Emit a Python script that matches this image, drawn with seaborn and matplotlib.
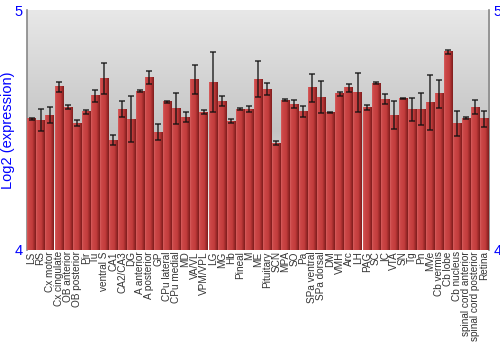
import numpy as np
import pandas as pd
import matplotlib
matplotlib.use("Agg")
import matplotlib.pyplot as plt
from matplotlib.colors import LinearSegmentedColormap
import seaborn as sns

regions = ["LS", "RS", "Cx motor", "Cx cingulate", "OB anterior", "OB posterior", "Pir", "Tu",
           "ventral S", "CA1", "CA2/CA3", "DG", "A anterior", "A posterior", "GP", "CPu lateral",
           "CPu medial", "MD", "VA/VL", "VPM/VPL", "LG", "MG", "Hb", "Pineal", "M", "ME",
           "Pituitary", "SCN", "MPA", "SO", "Pa", "SPa ventral", "SPa dorsal", "DM", "VMH", "Arc",
           "LH", "PAG", "SC", "IC", "VTA", "SN", "Tg", "Pn", "MVe", "Cb vermis", "Cb lobe",
           "Cb nucleus", "spinal cord anterior", "spinal cord posterior", "Retina"]
expression = [4.547, 4.540, 4.561, 4.680, 4.595, 4.529, 4.576, 4.643, 4.715, 4.458,
              4.588, 4.546, 4.663, 4.720, 4.492, 4.618, 4.590, 4.553, 4.711, 4.575,
              4.700, 4.621, 4.536, 4.588, 4.588, 4.713, 4.671, 4.445, 4.625, 4.608,
              4.579, 4.676, 4.636, 4.574, 4.651, 4.676, 4.655, 4.595, 4.696, 4.629,
              4.561, 4.632, 4.586, 4.588, 4.615, 4.651, 4.826, 4.528, 4.550, 4.595, 4.547]
error = [0.004, 0.046, 0.033, 0.021, 0.008, 0.013, 0.008, 0.025, 0.065, 0.021,
         0.033, 0.097, 0.006, 0.027, 0.033, 0.004, 0.064, 0.021, 0.061, 0.010,
         0.126, 0.019, 0.008, 0.003, 0.013, 0.076, 0.026, 0.008, 0.006, 0.018,
         0.023, 0.058, 0.067, 0.003, 0.008, 0.017, 0.081, 0.010, 0.003, 0.021,
         0.058, 0.003, 0.048, 0.067, 0.115, 0.058, 0.007, 0.052, 0.004, 0.029, 0.033]
y_ticks = [4, 5]
y_min, y_max = 4, 5

df = pd.DataFrame({"region": regions, "expression": expression})

sns.set_style("white")
plt.rcParams['font.family'] = ['Liberation Sans', 'DejaVu Sans']

fig = plt.figure(figsize=(5, 3.5), dpi=100)
ax = fig.add_axes([0.054, 0.286, 0.924, 0.685])

sns.barplot(data=df, x="region", y="expression", color="#c84444", width=0.92,
            saturation=1, ax=ax, zorder=2, linewidth=0)
n = len(regions)
ax.set_ylim(y_min, y_max)
ax.set_xlim(-0.5, n - 0.5)

# background gradient
bg = LinearSegmentedColormap.from_list("bg", [(0, "#ffffff"), (0.5, "#c4c4c4"), (1.0, "#e8e8e8")])
grad = np.linspace(0, 1, 256).reshape(-1, 1)
ax.imshow(grad, cmap=bg, aspect="auto", origin="lower",
          extent=[-0.5, n - 0.5, y_min, y_max], zorder=0)

# bar gradient (limited to the visible part of each bar)
barcmap = LinearSegmentedColormap.from_list("bar", [(0, "#d86060"), (0.15, "#cc4848"),
                                                    (0.6, "#c23c3c"), (1.0, "#7e1c1c")])
hgrad = np.linspace(0, 1, 64).reshape(1, -1)
for p in ax.patches:
    x0, y0 = p.get_x(), p.get_y()
    w, h = p.get_width(), p.get_height()
    top = y0 + h
    im = ax.imshow(hgrad, cmap=barcmap, aspect="auto",
                   extent=[x0, x0 + w, y_min, top], zorder=3)

ax.errorbar(np.arange(n), expression, yerr=error, fmt="none",
            ecolor="#111111", elinewidth=1.1, capsize=2.5, capthick=1.1, zorder=4, alpha=0.85)

ax.set_xlim(-0.5, n - 0.5)
ax.set_ylim(y_min, y_max)
ax.set_yticks(y_ticks)
ax.set_yticklabels([str(t) for t in y_ticks])
ax.tick_params(axis="y", colors="blue", labelsize=10.5, length=0, pad=3,
               right=True, labelright=True)
ax.tick_params(axis="x", length=0, labelsize=7.2, labelcolor="#333333", pad=1)
plt.setp(ax.get_xticklabels(), rotation=90)
ax.set_xlabel("")
ax.set_ylabel("Log2 (expression)", color="blue", fontsize=10.5, labelpad=0)

for s in ["top", "bottom"]:
    ax.spines[s].set_visible(False)
for s in ["left", "right"]:
    ax.spines[s].set_color("#888888")
    ax.spines[s].set_linewidth(1.2)

fig.savefig("out.png", dpi=100)
